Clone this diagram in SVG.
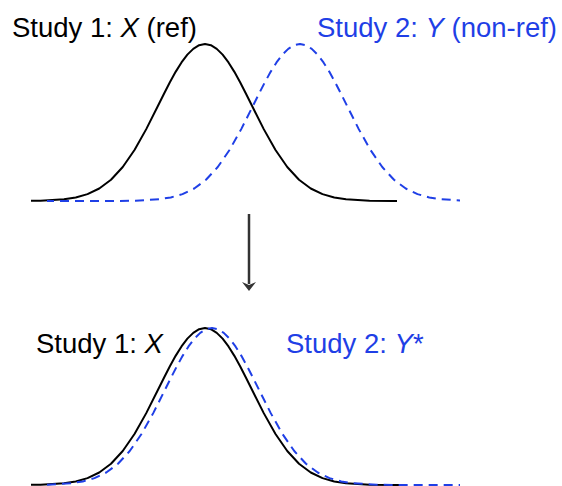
<svg xmlns="http://www.w3.org/2000/svg" xmlns:xlink="http://www.w3.org/1999/xlink" width="562" height="486" viewBox="0 0 562 486">
<style>
  .lbl { font-family: "Liberation Sans", Arial, sans-serif; font-size: 27.5px; }
  .blk { fill: #000; }
  .blu { fill: #1f3fe6; }
  .it { font-style: italic; }
  .cb { fill: none; stroke: #000; stroke-width: 2; stroke-linejoin: round; }
  .cd { fill: none; stroke: #1f3fe6; stroke-width: 2; stroke-dasharray: 9 6; stroke-linejoin: round; }
  .arr { stroke: #333; stroke-width: 2.5; fill: none; }
</style>
<defs>
  <path id="gauss" d="M -300 0 L -188 0 L -164.5 -0.35 L -141 -1.74 L -129.25 -3.58 L -117.5 -6.89 L -105.75 -12.5 L -94 -21.24 L -82.25 -33.96 L -70.5 -50.98 L -58.75 -71.87 L -47 -95.22 L -41.13 -107.06 L -35.25 -118.5 L -29.38 -129.15 L -23.5 -138.55 L -17.63 -146.34 L -11.75 -152.16 L -5.88 -155.78 L 0 -157 L 5.88 -155.78 L 11.75 -152.16 L 17.63 -146.34 L 23.5 -138.55 L 29.38 -129.15 L 35.25 -118.5 L 41.13 -107.06 L 47 -95.22 L 58.75 -71.87 L 70.5 -50.98 L 82.25 -33.96 L 94 -21.24 L 105.75 -12.5 L 117.5 -6.89 L 129.25 -3.58 L 141 -1.74 L 164.5 -0.35 L 188 0 L 300 0"/>
  <clipPath id="c1"><rect x="31" y="0" width="366" height="215"/></clipPath>
  <clipPath id="c2"><rect x="47" y="0" width="413" height="215"/></clipPath>
  <clipPath id="c3"><rect x="31" y="300" width="369" height="190"/></clipPath>
  <clipPath id="c4"><rect x="47" y="300" width="413" height="190"/></clipPath>
</defs>

<g id="top-x">
  <g clip-path="url(#c1)"><use xlink:href="#gauss" class="cb" transform="translate(205,201)"/></g>
  <text class="lbl blk" x="12" y="37">Study 1: <tspan class="it">X</tspan> (ref)</text>
</g>
<g id="top-y">
  <g clip-path="url(#c2)"><use xlink:href="#gauss" class="cd" transform="translate(300,201)"/></g>
  <text class="lbl blu" x="317" y="37">Study 2: <tspan class="it">Y</tspan> (non-ref)</text>
</g>

<g id="connectors">
  <line class="arr" x1="249" y1="214" x2="249" y2="284"/>
  <path d="M 242 282 L 249 285 L 256 282 L 249 291 Z" fill="#333"/>
</g>

<g id="bottom-x">
  <g clip-path="url(#c3)"><use xlink:href="#gauss" class="cb" transform="translate(205,485)"/></g>
  <text class="lbl blk" x="36" y="353">Study 1: <tspan class="it">X</tspan></text>
</g>
<g id="bottom-y">
  <g clip-path="url(#c4)"><use xlink:href="#gauss" class="cd" transform="translate(212,485)"/></g>
  <text class="lbl blu" x="286" y="353">Study 2: <tspan class="it">Y</tspan>*</text>
</g>
</svg>
